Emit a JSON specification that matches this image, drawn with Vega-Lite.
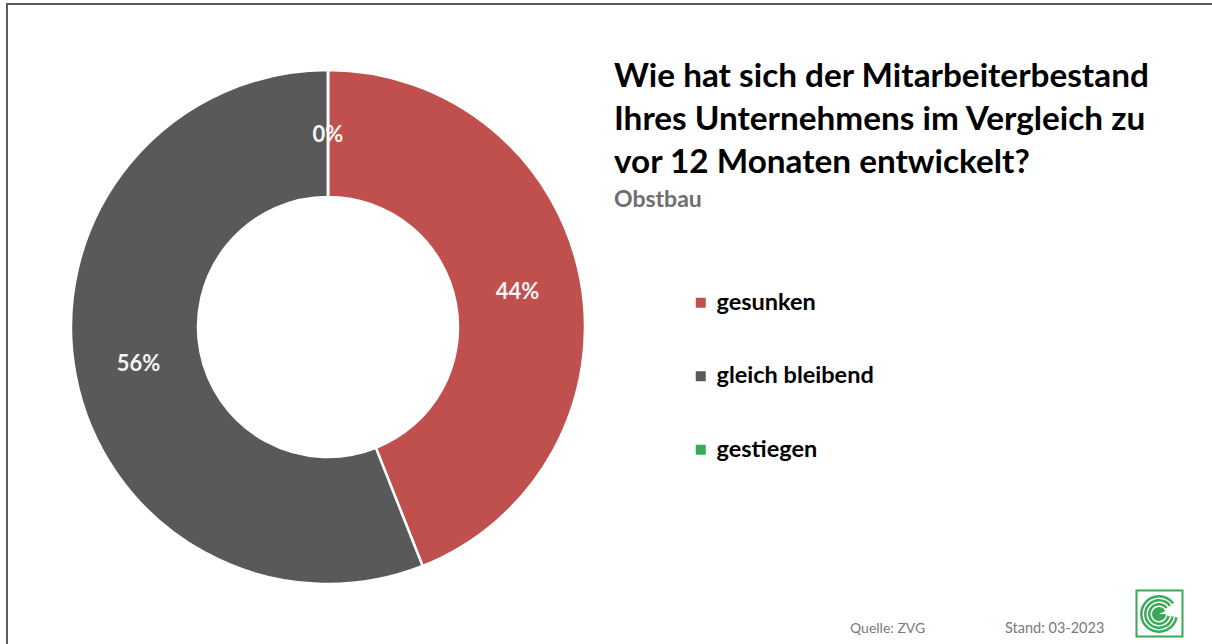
{
  "$schema": "https://vega.github.io/schema/vega-lite/v6.json",
  "width": 1205,
  "height": 640,
  "autosize": {"type": "none"},
  "padding": {"left": 7, "top": 4, "right": 0, "bottom": 0},
  "background": "white",
  "config": {
    "view": {"stroke": null},
    "font": "Lato"
  },
  "title": {
    "text": ["Wie hat sich der Mitarbeiterbestand", "Ihres Unternehmens im Vergleich zu", "vor 12 Monaten entwickelt?"],
    "subtitle": "Obstbau",
    "anchor": "start",
    "frame": "group",
    "orient": "top",
    "dx": 607,
    "dy": 215,
    "font": "Lato",
    "fontSize": 33.3,
    "fontWeight": "bold",
    "color": "#000000",
    "lineHeight": 43,
    "subtitleFont": "Lato",
    "subtitleFontSize": 23,
    "subtitleFontWeight": "bold",
    "subtitleColor": "#6e6e6e",
    "subtitlePadding": 9
  },
  "data": {
    "values": [
      {"kategorie": "gesunken", "anteil": 44, "label": "44%", "ord": 1},
      {"kategorie": "gleich bleibend", "anteil": 56, "label": "56%", "ord": 2},
      {"kategorie": "gestiegen", "anteil": 0, "label": "0%", "ord": 3}
    ]
  },
  "layer": [
    {
      "data": {"values": [{"t": "frame"}]},
      "mark": {"type": "rule", "stroke": "#5a5a5a", "strokeWidth": 2},
      "encoding": {"x": {"value": -1}, "x2": {"value": 1210}, "y": {"value": 0}, "y2": {"value": 0}}
    },
    {
      "data": {"values": [{"t": "frame"}]},
      "mark": {"type": "rule", "stroke": "#5a5a5a", "strokeWidth": 2},
      "encoding": {"x": {"value": 0}, "x2": {"value": 0}, "y": {"value": -1}, "y2": {"value": 645}}
    },
    {
      "mark": {"type": "arc", "x": 321, "y": 323, "innerRadius": 130, "outerRadius": 257, "stroke": "white", "strokeWidth": 2.5},
      "encoding": {
        "theta": {"field": "anteil", "type": "quantitative", "stack": true},
        "order": {"field": "ord", "type": "quantitative"},
        "color": {
          "field": "kategorie",
          "type": "nominal",
          "scale": {"domain": ["gesunken", "gleich bleibend", "gestiegen"], "range": ["#C0504D", "#595959", "#3AA95B"]},
          "legend": {
            "orient": "none",
            "legendX": 682,
            "legendY": 287,
            "title": null,
            "symbolType": "square",
            "symbolSize": 100,
            "symbolStrokeWidth": 0,
            "labelFont": "Lato",
            "labelFontSize": 23.5,
            "labelFontWeight": "bold",
            "labelColor": "#000000",
            "labelOffset": 4,
            "rowPadding": 48.5
          }
        }
      }
    },
    {
      "mark": {"type": "text", "x": 321, "y": 324, "radius": 193, "font": "Lato", "fontSize": 22, "fontWeight": "bold", "color": "#F4F4F4", "align": "center", "baseline": "middle"},
      "encoding": {
        "theta": {"field": "anteil", "type": "quantitative", "stack": true},
        "order": {"field": "ord", "type": "quantitative"},
        "text": {"field": "label", "type": "nominal"}
      }
    },
    {
      "data": {"values": [{"t": "Quelle: ZVG"}]},
      "mark": {"type": "text", "x": 843, "y": 629, "align": "left", "baseline": "alphabetic", "font": "Lato", "fontSize": 14, "color": "#7a7a7a"},
      "encoding": {"text": {"field": "t", "type": "nominal"}}
    },
    {
      "data": {"values": [{"t": "Stand: 03-2023"}]},
      "mark": {"type": "text", "x": 998, "y": 629, "align": "left", "baseline": "alphabetic", "font": "Lato", "fontSize": 14.5, "color": "#7a7a7a"},
      "encoding": {"text": {"field": "t", "type": "nominal"}}
    },
    {
      "data": {"values": [{"t": "logo"}]},
      "mark": {"type": "point", "shape": "square", "x": 1152.5, "y": 609.5, "size": 2116, "filled": false, "stroke": "#3AAA56", "strokeWidth": 2, "opacity": 1},
      "encoding": {}
    },
    {
      "data": {"values": [{"t": "logo"}]},
      "mark": {"type": "arc", "x": 1152, "y": 610, "innerRadius": 16.5, "outerRadius": 19, "theta": 1.75, "theta2": 7.2, "fill": "#3AAA56"},
      "encoding": {}
    },
    {
      "data": {"values": [{"t": "logo"}]},
      "mark": {"type": "arc", "x": 1152, "y": 610, "innerRadius": 12.5, "outerRadius": 15, "theta": 1.75, "theta2": 7.2, "fill": "#3AAA56"},
      "encoding": {}
    },
    {
      "data": {"values": [{"t": "logo"}]},
      "mark": {"type": "arc", "x": 1152, "y": 610, "innerRadius": 8.5, "outerRadius": 11, "theta": 1.75, "theta2": 7.2, "fill": "#3AAA56"},
      "encoding": {}
    },
    {
      "data": {"values": [{"t": "logo"}]},
      "mark": {"type": "arc", "x": 1152, "y": 610, "innerRadius": 0, "outerRadius": 7, "theta": 1.6, "theta2": 7.4, "fill": "#3AAA56"},
      "encoding": {}
    }
  ]
}
